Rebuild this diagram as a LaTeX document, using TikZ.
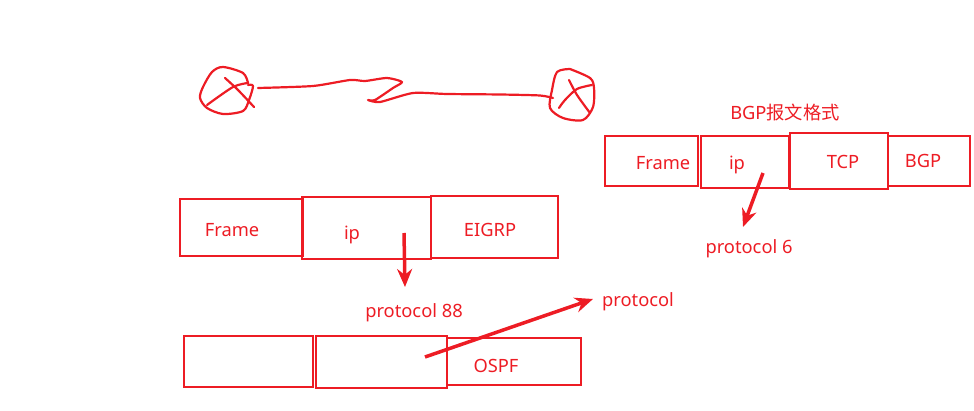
\documentclass[tikz,border=0pt]{standalone}
\usepackage{xcolor}
\usepackage{fontspec}
\setmainfont{Noto Sans}
\newfontfamily\cjkfont{Noto Sans CJK SC}
\usetikzlibrary{positioning, arrows.meta}
\definecolor{inkred}{HTML}{ED1C24}
\tikzset{
	pktbox/.style={draw=inkred, line width=2.5pt, inner sep=0pt, outer sep=0pt},
	pktlabel/.style={text=inkred, inner sep=0pt, font=\fontsize{18.3}{20}\selectfont},
	pen/.style={draw=inkred, line width=2.2pt, line cap=round, line join=round},
	ptr/.style={->, draw=inkred, line width=3.5pt}
}
\begin{document}
\begin{tikzpicture}[>={Stealth[length=18pt,width=15pt]}, x=1pt, y=-1pt]
	\useasboundingbox (0,0) rectangle (974,411);
	
	%routers and link
	\draw[pen] plot[smooth] coordinates {(248,83) (243,73) (223,67) (212,72) (203,87) (200,98) (207,108) (223,114) (243,111) (249,100) (253,86) (248,85)};
	\draw[pen] plot[smooth] coordinates {(225,78) (238,90) (254,107)};
	\draw[pen] plot[smooth] coordinates {(248,83) (233,87) (207,105)};
	\draw[pen] plot[smooth, tension=0.4] coordinates {(258,88) (313,86) (350,80) (365,81) (387,78) (402,82) (393,88) (375,100) (368,100) (380,102) (413,93) (447,94) (500,94.5) (540,95.5) (553,98)};
	\draw[pen] plot[smooth] coordinates {(570,69) (557,72) (552,90) (550,108) (563,118) (583,120) (593,107) (594,88) (590,78) (570,69)};
	\draw[pen] plot[smooth] coordinates {(569,80) (577,95) (590,113)};
	\draw[pen] plot[smooth] coordinates {(592,85) (577,89) (565,100) (559,108)};
	
	%BGP
	\node[pktbox, minimum width=93pt, minimum height=50pt] (frameB) at (651.5,161) {};
	\node[pktbox, minimum width=88pt, minimum height=52pt] (ipB) at (745,162) {};
	\node[pktbox, minimum width=82pt, minimum height=50pt] (bgpB) at (929,161) {};
	\node[pktbox, minimum width=98pt, minimum height=56pt] (tcpB) at (839,161) {};
	\node[pktlabel] (titleB) at (785,113) {BGP{\cjkfont 报文格式}};
	\node[pktlabel] (frameTextB) at (663,163) {Frame};
	\node[pktlabel] (ipTextB) at (737,165) {ip};
	\node[pktlabel] (tcpTextB) at (843,162) {TCP};
	\node[pktlabel] (bgpTextB) at (923,161) {BGP};
	\node[pktlabel] (protoB) at (749,249) {protocol 6};
	\coordinate (fromB) at (763,173);
	\coordinate (toB) at (743,227);
	\draw[ptr] (fromB) -- (toB);
	
	%EIGRP
	\node[pktbox, minimum width=123pt, minimum height=57pt] (frameE) at (241.5,227.5) {};
	\node[pktbox, minimum width=127pt, minimum height=62pt] (eigrpE) at (494.5,227) {};
	\node[pktbox, minimum width=129pt, minimum height=62pt] (ipE) at (366.5,228) {};
	\node[pktlabel] (frameTextE) at (232,230) {Frame};
	\node[pktlabel] (ipTextE) at (352,235) {ip};
	\node[pktlabel] (eigrpTextE) at (490,230) {EIGRP};
	\node[pktlabel] (protoE) at (414,313) {protocol 88};
	\coordinate (fromE) at (404,233);
	\coordinate (toE) at (405,287);
	\draw[ptr] (fromE) -- (toE);
	
	%OSPF
	\node[pktbox, minimum width=129pt, minimum height=51pt] (frameO) at (248.5,361.5) {};
	\node[pktbox, minimum width=134pt, minimum height=47pt] (ospfO) at (514,361.5) {};
	\node[pktbox, minimum width=131pt, minimum height=52pt] (ipO) at (381.5,362) {};
	\node[pktlabel] (ospfTextO) at (496,366) {OSPF};
	\node[pktlabel] (protoO) at (638,302) {protocol};
	\coordinate (fromO) at (425,357);
	\coordinate (toO) at (593,299);
	\draw[ptr] (fromO) -- (toO);
\end{tikzpicture}
\end{document}
